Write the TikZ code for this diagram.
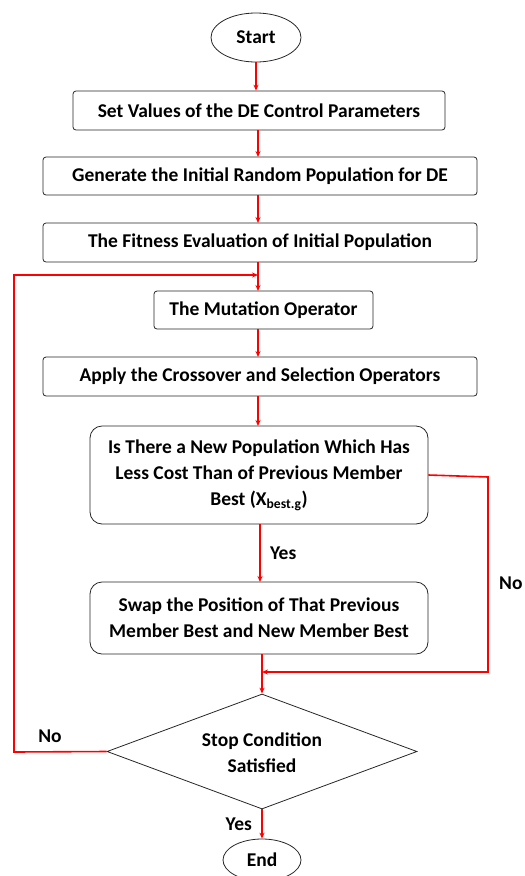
\documentclass[tikz,border=0pt]{standalone}
\usepackage{fontspec}
\setmainfont{Carlito}
\usetikzlibrary{shapes.geometric,arrows.meta}
\begin{document}
\begin{tikzpicture}[x=1pt,y=-1pt,
  txt/.style={font=\bfseries\fontsize{19.5}{26}\selectfont},
  procbox/.style={draw=black!85,line width=0.8pt,rounded corners=3pt,txt,inner sep=0pt,anchor=center},
  bigbox/.style={draw=black!85,line width=0.8pt,rounded corners=12pt,txt,inner sep=0pt,align=center},
  term/.style={draw=black!85,line width=0.8pt,ellipse,txt,inner sep=0pt},
  flow/.style={draw=red,line width=1.6pt,-{Stealth[length=6pt,width=5pt]}},
  redline/.style={draw=red,line width=1.6pt},
  lbl/.style={txt}]
\useasboundingbox (0,0) rectangle (525,876);
\node[term,minimum width=90pt,minimum height=49pt] (start) at (256,37.5) {Start};
\node[procbox,minimum width=372pt,minimum height=39pt] (b1) at (259,110.5) {Set Values of the DE Control Parameters};
\node[procbox,minimum width=434pt,minimum height=38pt] (b2) at (260,176) {Generate the Initial Random Population for DE};
\node[procbox,minimum width=434pt,minimum height=39pt] (b3) at (260,242.5) {The Fitness Evaluation of Initial Population};
\node[procbox,minimum width=219pt,minimum height=38pt] (b4) at (263.5,310) {The Mutation Operator};
\node[procbox,minimum width=434pt,minimum height=39pt] (b5) at (260,376.5) {Apply the Crossover and Selection Operators};
\node[bigbox,minimum width=338pt,minimum height=98pt] (dec) at (259,475) {Is There a New Population Which Has\\Less Cost Than of Previous Member\\Best (X\textsubscript{best.g})};
\node[bigbox,minimum width=338pt,minimum height=72pt] (swap) at (259,618) {Swap the Position of That Previous\\Member Best and New Member Best};
\node[draw=black!85,line width=0.8pt,diamond,aspect=2.7,minimum width=310pt,minimum height=115pt,inner sep=0pt] (stop) at (262,751.5) {};
\node[txt,align=center] at (262,753) {Stop Condition\\Satisfied};
\node[term,minimum width=78pt,minimum height=42pt] (end) at (262,860) {End};

\coordinate (m1) at (258,275);
\coordinate (m2) at (262,672);
\draw[flow] (start.south) -- (start.south|-b1.north);
\draw[flow] (b1.south-|258,0) -- (258,157);
\draw[flow] (258,195) -- (258,223);
\draw[redline] (258,262) -- (m1);
\draw[flow] (m1) -- (258,291);
\draw[flow] (258,329) -- (258,357);
\draw[flow] (258,396) -- (258,426);
\draw[flow] (260,524) -- node[lbl,right=6pt] {Yes} (260,582);
\draw[redline] (262,654) -- (m2);
\draw[flow] (m2) -- (stop.north);
\draw[flow] (dec.east) -- (488,477) -- (488,672) -- (m2);
\node[lbl,anchor=west,inner sep=0pt] at (499,583) {No};
\draw[flow] (stop.west) -- (14,752) -- (14,275) -- (m1);
\node[lbl] at (50,736) {No};
\draw[flow] (stop.south) -- node[lbl,left=6pt] {Yes} (end.north);
\end{tikzpicture}
\end{document}
